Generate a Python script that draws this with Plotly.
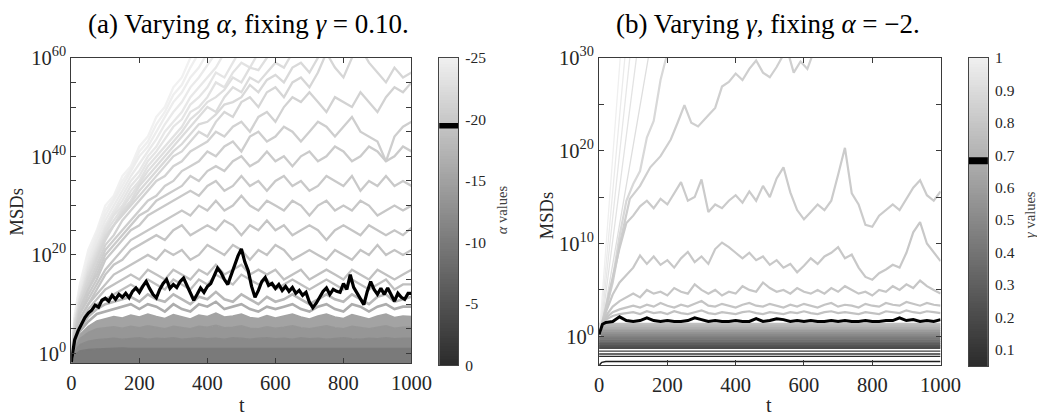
import plotly.graph_objects as go

# Positions in pixels and mapped to page
# pixels with the small scale and offset that the photographing step applies.
W, H = 1060, 419
SX, BX = 0.975, 5.8
SY, BY = 0.955, 10.2


def cx(p):
    return (p - BX) / SX


def cy(p):
    return (p - BY) / SY


def px(p):
    return cx(p) / W


def py(p):
    return 1 - cy(p) / H


# ------------------------------------------------------------------
# DATA  (all values are log10(MSD))
# ------------------------------------------------------------------
# ---- panel (a): varying alpha, gamma = 0.10 ----
T_A = [0, 10] + list(range(25, 1001, 25))
T_A_BLACK = list(range(0, 1001, 10))

A_BLACK = [-1.8, 2.8, 4.6, 6.0, 7.3, 8.2, 8.8, 9.8, 9.4, 10.8,
           11.2, 10.6, 11.8, 11.0, 12.0, 11.4, 12.2, 11.3, 12.6, 13.3,
           12.4, 13.6, 14.6, 13.2, 12.0, 11.3, 13.0, 14.2, 15.0, 13.2,
           14.0, 13.4, 14.6, 15.3, 13.8, 12.2, 10.8, 12.0, 13.3, 12.4,
           13.6, 14.2, 15.8, 17.3, 16.4, 15.0, 14.0, 16.0, 18.0, 19.8,
           21.2, 18.6, 16.8, 13.6, 11.4, 12.8, 14.6, 15.4, 13.8, 14.2,
           13.2, 14.0, 12.8, 13.6, 12.6, 13.4, 12.2, 12.8, 11.8, 12.4,
           10.4, 9.3, 10.2, 11.4, 12.6, 13.3, 12.0, 13.0, 12.6, 12.4,
           14.2, 13.0, 16.0, 13.4, 12.2, 10.8, 9.9, 12.6, 14.6, 13.0,
           12.0, 13.2, 12.0, 13.3, 12.0, 10.6, 12.2, 11.4, 11.0, 12.2,
           12.2]

# lines that leave the top of the plot (most negative alpha)
A_FAN_1 = [-2, 8, 14, 21, 25, 30, 32, 36, 38, 42, 44, 48, 50, 54, 56, 60, 64]
A_FAN_1B = [-2, 7.5, 13.5, 20, 24.5, 29, 31.5, 35, 37.5, 41, 43, 46.5, 49, 52.5, 54.5, 58,
            61, 64]
A_FAN_2 = [-2, 7, 13, 19, 24, 28, 31, 34, 37, 40, 42, 45, 48, 51, 53, 56, 58, 61, 64]
A_FAN_2B = [-2, 7, 12.5, 18.5, 23, 27, 30, 33, 36, 38.5, 41, 43.5, 46.5, 49, 51, 54, 56,
            58.5, 61, 64]
A_FAN_3 = [-2, 7, 12, 18, 22, 26, 29, 32, 35, 37, 40, 42, 45, 47, 49, 52, 54, 56, 58, 61, 64]
A_FAN_3B = [-2, 6.5, 11.5, 17.5, 21.5, 25.5, 28.5, 31, 34, 36, 39, 41, 43.5, 46, 47.5, 50.5,
            52, 54, 57, 56, 59, 62]
A_FAN_4 = [-2, 6, 11, 17, 21, 25, 28, 30, 33, 35, 38, 40, 42, 44, 46, 49, 50, 52, 55, 54,
           57, 59, 58, 61, 64]
A_FAN_4B = [-2, 6, 11, 16.5, 20.5, 24.5, 27, 29.5, 32, 34.5, 37, 39, 41, 43, 45, 47.5, 49,
            51, 52, 53.5, 56, 55, 58, 57.5, 60, 62]
A_FAN_5 = [-2, 6, 11, 16, 20, 24, 26, 29, 31, 34, 36, 38, 40, 42, 44, 46, 48, 50, 49, 52,
           54, 53, 56, 55, 57, 59, 58, 61, 64]
A_FAN_5B = [-2, 5.5, 10.5, 15.5, 19.5, 23.5, 26, 28.5, 30.5, 33, 35, 37, 39, 41, 42.5, 44.5,
            46.5, 47, 48.5, 50.5, 51, 52, 54.5, 53, 55.5, 56.5, 55, 58, 59, 57, 60, 63]
A_FAN_6 = [-2, 5, 10, 15, 19, 23, 26, 28, 30, 32, 34, 36, 38, 40, 41, 43, 45, 44, 47, 49,
           48, 51, 52, 50, 53, 54, 52, 55, 56, 54, 57, 61, 58, 56, 60, 62, 59, 57, 55, 58,
           56, 57]
# plateauing lines above the highlighted one
A_UP_52 = [-2, 5, 10, 14, 18, 22, 24, 27, 29, 31, 33, 35, 36, 38, 39, 41, 42, 43, 45, 44,
           46, 47, 45, 48, 49, 47, 50, 52, 51, 53, 51, 49, 52, 51, 50, 53, 51, 49, 52, 54,
           53, 55]
A_UP_46 = [-2, 4, 9, 13, 17, 21, 23, 25, 27, 29, 31, 32, 34, 35, 37, 38, 39, 41, 40, 42,
           43, 41, 44, 45, 43, 44, 46, 45, 43, 45, 47, 46, 44, 46, 48, 45, 44, 43, 39, 44,
           46, 47]
A_UP_41 = [-2, 4, 9, 13, 16, 20, 22, 24, 26, 28, 29, 31, 32, 33, 34, 36, 35, 37, 38, 37,
           39, 40, 38, 39, 41, 39, 40, 38, 40, 41, 39, 40, 42, 41, 39, 40, 42, 41, 39, 40,
           42, 41]
A_UP_35 = [-2, 4, 8, 12, 15, 19, 21, 23, 25, 26, 28, 29, 30, 31, 32, 33, 32, 34, 35, 33,
           34, 36, 34, 35, 33, 35, 36, 34, 35, 33, 34, 36, 35, 34, 36, 33, 35, 34, 36, 34,
           35, 34]
A_UP_30 = [-2, 4, 8, 11, 14, 17, 19, 21, 23, 24, 25, 26, 27, 28, 29, 28, 30, 29, 31, 29,
           30, 32, 30, 29, 31, 30, 29, 31, 30, 28, 30, 31, 29, 30, 29, 31, 30, 28, 29, 30,
           29, 30]
A_UP_25 = [-2, 3, 7, 10, 13, 16, 18, 19, 21, 22, 23, 24, 23, 25, 26, 24, 25, 26, 25, 27,
           26, 24, 26, 25, 27, 25, 26, 24, 25, 26, 25, 23, 25, 26, 25, 24, 26, 25, 24, 25,
           24, 25.5]
A_UP_21 = [-2, 3, 7, 10, 12, 14, 16, 17, 18, 19, 20, 19, 21, 20, 21, 19, 20, 22, 21, 20,
           22, 21, 19, 21, 20, 22, 21, 19, 20, 21, 20, 19, 21, 20, 19, 21, 20, 22, 20, 21,
           20, 21]
A_UP_17 = [-2, 3, 6, 9, 11, 13, 14, 15, 16, 15, 17, 16, 15, 17, 16, 15, 17, 16, 18, 16,
           17, 18, 16, 17, 16, 17, 15, 16, 17, 15, 16, 17, 16, 15, 17, 16, 15, 17, 16, 15,
           16, 17]
A_UP_14 = [-2, 2.5, 5.5, 8, 10, 11, 12, 13, 14, 13, 15, 14, 13, 15, 14, 13, 15, 14, 16, 15,
           14, 16, 15, 14, 15, 13, 14, 15, 14, 13, 14, 15, 14, 13, 15, 14, 13, 14, 15, 13,
           14, 14]
# lines just below the highlighted one
A_MID_11 = [-2, 2.5, 5, 7.5, 9, 10, 10.5, 11, 11.5, 10.5, 12, 11, 10.5, 12, 11, 10, 11.5, 11,
            12.5, 11, 10.5, 12, 11, 10, 11.5, 10.5, 11, 12, 11, 10, 11, 12, 11, 10.5, 12, 11,
            10, 11.5, 12, 10.5, 11, 11.5]
A_MID_9 = [-2, 2, 4.5, 6.5, 8, 8.5, 9, 9.5, 10, 9, 10, 9.5, 8.5, 10, 9, 8.5, 10, 9.5, 10.5,
           9, 9.5, 10, 9, 8.5, 9.5, 9, 9.5, 10, 9, 8.5, 9.5, 10, 9, 8.5, 10, 9.5, 8.5, 9.5,
           10, 9, 9.5, 9.5]
# upper edges of the dense (nearly solid) band of lines, top to bottom
A_DENSE_7 = [-2, 1.5, 3.8, 5.5, 6.6, 7, 7.5, 7.2, 7.8, 7.4, 8, 7.5, 7.1, 7.9, 7.4, 7, 7.8,
             7.5, 8.2, 7.4, 7.6, 8, 7.3, 7.1, 7.7, 7.2, 7.6, 8, 7.4, 7, 7.6, 8, 7.4, 7.1,
             7.9, 7.5, 7, 7.6, 8, 7.3, 7.6, 7.5]
A_DENSE_5 = [-2, 1, 3, 4.3, 5, 5.2, 5.4, 5.1, 5.5, 5.2, 5.6, 5.3, 5, 5.5, 5.2, 5, 5.5, 5.3,
             5.7, 5.2, 5.3, 5.6, 5.1, 5, 5.4, 5.1, 5.3, 5.6, 5.2, 5, 5.3, 5.6, 5.2, 5, 5.5,
             5.3, 5, 5.3, 5.6, 5.1, 5.3, 5.3]
A_DENSE_3 = [-2, 0.5, 1.8, 2.5, 2.8, 3, 3.1, 2.9, 3.1, 3.2, 2.9, 3.1, 3, 3.2, 2.9, 3, 3.2, 3,
             3.1, 2.9, 3.2, 3.1, 2.9, 3.1, 3.2, 3, 3.1, 2.9, 3.2, 3, 3.1, 2.9, 3, 3.2, 3,
             2.9, 3.1, 3, 3.2, 3, 3.1, 3.1]
A_DENSE_1 = [-2, -0.3, 0.5, 0.8, 0.9, 1, 1, 1.1, 1, 1, 1.1, 1, 1, 1.1, 1, 1, 1.1, 1, 1, 1.1,
             1, 1, 1.1, 1, 1, 1.1, 1, 1, 1.1, 1, 1, 1.1, 1, 1, 1.1, 1, 1, 1.1, 1, 1, 1.1, 1]
A_FLOOR = -3

A_CB_MIN, A_CB_MAX = -25, 0
A_CB_TICKS = [-25, -20, -15, -10, -5, 0]
A_HIGHLIGHT = (-19.7, -19.25)

# ---- panel (b): varying gamma, alpha = -2 ----
T_B = [0, 10] + list(range(20, 1001, 20))

B_BLACK = [0.2, 1.3, 1.5, 1.6, 2.1, 1.7, 1.6, 1.7, 2.0, 1.7,
           1.6, 1.7, 1.6, 1.6, 1.7, 2.0, 1.8, 1.6, 1.7, 1.6,
           1.6, 1.7, 1.6, 1.6, 1.9, 1.6, 1.7, 1.9, 1.8, 1.6,
           1.7, 1.6, 1.7, 1.6, 1.6, 1.7, 1.6, 1.7, 1.6, 1.6,
           1.7, 1.6, 1.6, 1.7, 1.7, 2.0, 1.7, 1.8, 1.6, 1.7,
           1.6, 1.8]

# straight fan lines (largest gamma): start time, start value, time at 10^31
B_FAN_T0 = [4, 6, 8, 10, 12]
B_FAN_V0 = [1.8, 1.8, 1.8, 1.8, 1.8]
B_FAN_T_TOP = [64, 78, 93, 113, 149]
B_FAN_V_TOP = 31

B_J1_T = [0, 10, 20, 40, 60, 80, 100, 120, 140, 160, 180, 200]
B_J1 = [0, 1.6, 2.8, 6.2, 10.8, 14.6, 16.4, 17.8, 21.4, 23.2, 27.6, 30.5]

B_J2_T = [0, 10, 20, 40, 60, 90, 120, 150, 180, 210, 230, 250, 270, 290, 320, 340, 360,
          380, 400, 420, 440, 460, 480, 500, 520, 536, 550, 570, 590, 610, 625, 650]
B_J2 = [0, 1.5, 2.7, 5.8, 9.8, 14.8, 16.2, 18.2, 19.4, 21.2, 23.0, 24.9, 23.0, 22.6, 23.8,
        24.6, 26.9, 27.4, 28.3, 27.6, 28.8, 29.7, 28.4, 27.9, 29.0, 30.1, 31.0, 28.4, 29.6,
        28.8, 30.3, 32.0]

B_J3 = [0, 1.6, 3.0, 6.5, 9.5, 12.2, 13.0, 14.0, 14.6, 13.8,
        14.8, 14.2, 15.4, 16.6, 14.6, 15.0, 16.9, 13.4, 14.2, 13.8,
        14.6, 15.2, 14.4, 15.6, 14.6, 16.2, 15.0, 17.0, 18.2, 15.5,
        13.6, 12.6, 13.4, 14.2, 13.6, 14.6, 17.4, 20.3, 15.4, 14.2,
        12.0, 11.8, 13.0, 13.6, 14.2, 13.6, 14.8, 16.0, 16.8, 15.2,
        14.6, 15.6]
B_J4 = [0, 1.5, 2.6, 4.5, 5.8, 6.6, 7.4, 8.7, 7.8, 8.6,
        7.7, 8.2, 7.4, 8.4, 9.1, 8.0, 8.6, 7.8, 9.4, 10.1,
        9.6, 9.0, 8.4, 9.0, 8.2, 8.6, 7.7, 8.2, 7.4, 7.8,
        6.9, 7.6, 8.4, 7.8, 8.6, 9.0, 9.6, 8.4, 8.8, 7.4,
        6.4, 6.1, 6.8, 7.2, 7.7, 7.4, 9.0, 11.2, 12.3, 10.0,
        9.0, 8.1]
B_J5 = [0, 1.4, 2.2, 3.2, 3.8, 4.2, 4.6, 4.2, 5.0, 4.6,
        4.8, 4.4, 5.2, 4.8, 4.6, 5.6, 5.0, 4.6, 5.0, 4.4,
        4.8, 4.6, 5.4, 5.0, 4.8, 5.8, 5.2, 4.8, 5.0, 4.6,
        5.2, 4.8, 4.6, 5.0, 4.6, 5.2, 4.8, 5.4, 5.0, 4.6,
        4.8, 4.4, 5.0, 4.8, 5.4, 5.0, 5.6, 5.2, 6.0, 5.4,
        5.0, 4.6]
B_J6 = [0, 1.4, 2.0, 2.6, 2.9, 3.1, 3.3, 3.1, 3.4, 3.2,
        3.6, 3.3, 3.1, 3.4, 3.2, 3.5, 3.8, 3.3, 3.2, 3.5,
        3.3, 3.1, 3.4, 3.6, 3.3, 3.2, 3.5, 3.3, 3.1, 3.4,
        3.2, 3.5, 3.3, 3.1, 3.4, 3.6, 3.2, 3.4, 3.3, 3.1,
        3.5, 3.3, 3.2, 3.6, 3.4, 3.3, 3.7, 3.5, 3.3, 3.6,
        3.4, 3.3]
B_J7 = [0, 1.3, 1.8, 2.2, 2.4, 2.5, 2.6, 2.4, 2.7, 2.5,
        2.6, 2.4, 2.7, 2.5, 2.4, 2.6, 2.8, 2.5, 2.4, 2.6,
        2.5, 2.4, 2.6, 2.7, 2.5, 2.4, 2.6, 2.5, 2.4, 2.6,
        2.5, 2.7, 2.5, 2.4, 2.6, 2.7, 2.5, 2.6, 2.5, 2.4,
        2.6, 2.5, 2.4, 2.7, 2.6, 2.5, 2.8, 2.6, 2.5, 2.7,
        2.6, 2.5]

# nearly flat lines of the smaller gammas (top to bottom)
B_FLAT_LEVELS = [1.35, 1.15, 0.95, 0.75, 0.55, 0.35, 0.15, -0.05, -0.25, -0.45,
                 -0.65, -0.85, -1.05, -1.25]
B_DARK_LEVELS = [-1.6, -1.9, -2.15]
B_BOTTOM_T = [0, 3, 8, 20, 1000]
B_BOTTOM = [-3.3, -3.0, -2.8, -2.7, -2.7]

B_CB_MIN, B_CB_MAX = 0.05, 1.0
B_CB_TICKS = [0.1, 0.2, 0.3, 0.4, 0.5, 0.6, 0.7, 0.8, 0.9, 1.0]
B_CB_LABELS = ['0.1', '0.2', '0.3', '0.4', '0.5', '0.6', '0.7', '0.8', '0.9', '1']
B_HIGHLIGHT = (0.672, 0.693)

# ------------------------------------------------------------------
# STYLE
# ------------------------------------------------------------------
FONT = "Liberation Serif"
A_UPPER = [A_FAN_1, A_FAN_1B, A_FAN_2, A_FAN_2B, A_FAN_3, A_FAN_3B, A_FAN_4, A_FAN_4B,
           A_FAN_5, A_FAN_5B, A_FAN_6, A_UP_52, A_UP_46, A_UP_41, A_UP_35, A_UP_30,
           A_UP_25, A_UP_21, A_UP_17, A_UP_14]
A_UPPER_COLORS = ['#f1f1f1', '#efefef', '#ededed', '#eaeaea', '#e8e8e8', '#e5e5e5',
                  '#e2e2e2', '#dfdfdf', '#dcdcdc', '#d9d9d9', '#d6d6d6',
                  '#d2d2d2', '#cecece', '#cbcbcb', '#c9c9c9', '#c7c7c7', '#c5c5c5',
                  '#c3c3c3', '#c1c1c1', '#bfbfbf']
A_MID = [A_MID_11, A_MID_9]
A_MID_COLORS = ['#b8b8b8', '#adadad']
A_DENSE = [A_DENSE_1, A_DENSE_3, A_DENSE_5, A_DENSE_7]
A_DENSE_COLORS = ['#7a7a7a', '#8a8a8a', '#969696', '#a3a3a3']

B_FAN_COLORS = ['#efefef', '#ebebeb', '#e7e7e7', '#e3e3e3', '#dedede']
B_J = [(B_J1_T, B_J1), (B_J2_T, B_J2), (T_B, B_J3), (T_B, B_J4), (T_B, B_J5),
       (T_B, B_J6), (T_B, B_J7)]
B_J_COLORS = ['#d8d8d8', '#cfcfcf', '#cbcbcb', '#c8c8c8', '#c6c6c6', '#c4c4c4', '#c2c2c2']


def gray_hex(frac):
    v = int(round(0xc0 - frac * (0xc0 - 0x4c)))
    return '#%02x%02x%02x' % (v, v, v)


fig = go.Figure()


def p10(vals):
    return [10.0 ** v for v in vals]


# ---------------- panel (a) ----------------
fig.add_trace(go.Scatter(x=T_A, y=p10([A_FLOOR] * len(T_A)), mode='lines',
                         line=dict(width=0, color='rgba(0,0,0,0)'),
                         xaxis='x', yaxis='y', hoverinfo='skip', showlegend=False))
for vals, col in zip(A_DENSE, A_DENSE_COLORS):
    fig.add_trace(go.Scatter(x=T_A, y=p10(vals), mode='lines', fill='tonexty',
                             fillcolor=col, line=dict(width=1.5, color=col),
                             xaxis='x', yaxis='y', hoverinfo='skip', showlegend=False))
for vals, col in zip(A_UPPER, A_UPPER_COLORS):
    fig.add_trace(go.Scatter(x=T_A[:len(vals)], y=p10(vals), mode='lines',
                             line=dict(width=2.3, color=col),
                             xaxis='x', yaxis='y', hoverinfo='skip', showlegend=False))
for vals, col in zip(A_MID, A_MID_COLORS):
    fig.add_trace(go.Scatter(x=T_A, y=p10(vals), mode='lines',
                             line=dict(width=2.6, color=col),
                             xaxis='x', yaxis='y', hoverinfo='skip', showlegend=False))
fig.add_trace(go.Scatter(x=T_A_BLACK, y=p10(A_BLACK), mode='lines',
                         line=dict(width=3.2, color='black'),
                         xaxis='x', yaxis='y', hoverinfo='skip', showlegend=False))

# ---------------- panel (b) ----------------
for i, lev in enumerate(B_FLAT_LEVELS):
    col = gray_hex(i / (len(B_FLAT_LEVELS) - 1))
    fig.add_trace(go.Scatter(x=[0, 1000], y=p10([lev, lev]), mode='lines',
                             line=dict(width=2.3, color=col),
                             xaxis='x2', yaxis='y2', hoverinfo='skip', showlegend=False))
for lev, col in zip(B_DARK_LEVELS, ['#404040', '#363636', '#2c2c2c']):
    fig.add_trace(go.Scatter(x=[0, 1000], y=p10([lev, lev]), mode='lines',
                             line=dict(width=1.3, color=col),
                             xaxis='x2', yaxis='y2', hoverinfo='skip', showlegend=False))
fig.add_trace(go.Scatter(x=B_BOTTOM_T, y=p10(B_BOTTOM), mode='lines',
                         line=dict(width=1.5, color='#1e1e1e'),
                         xaxis='x2', yaxis='y2', hoverinfo='skip', showlegend=False))
for t0, v0, tt, col in zip(B_FAN_T0, B_FAN_V0, B_FAN_T_TOP, B_FAN_COLORS):
    fig.add_trace(go.Scatter(x=[0, t0, tt], y=p10([0, v0, B_FAN_V_TOP]), mode='lines',
                             line=dict(width=1.3, color=col),
                             xaxis='x2', yaxis='y2', hoverinfo='skip', showlegend=False))
for (tx, vals), col in zip(B_J, B_J_COLORS):
    fig.add_trace(go.Scatter(x=tx, y=p10(vals), mode='lines',
                             line=dict(width=2.2, color=col),
                             xaxis='x2', yaxis='y2', hoverinfo='skip', showlegend=False))
fig.add_trace(go.Scatter(x=T_B, y=p10(B_BLACK), mode='lines',
                         line=dict(width=3, color='black'),
                         xaxis='x2', yaxis='y2', hoverinfo='skip', showlegend=False))

# ---------------- colour bars ----------------
A_CB_Y = [A_CB_MIN + i * (A_CB_MAX - A_CB_MIN) / 120 for i in range(121)]
B_CB_Y = [B_CB_MIN + i * (B_CB_MAX - B_CB_MIN) / 120 for i in range(121)]
fig.add_trace(go.Heatmap(x=[0], y=A_CB_Y, z=[[v] for v in A_CB_Y], zmin=A_CB_MIN,
                         zmax=A_CB_MAX, colorscale=[[0, '#f0f0f0'], [1, '#2b2b2b']],
                         showscale=False, xaxis='x3', yaxis='y3', hoverinfo='skip'))
fig.add_trace(go.Heatmap(x=[0], y=B_CB_Y, z=[[v] for v in B_CB_Y], zmin=B_CB_MIN,
                         zmax=B_CB_MAX, colorscale=[[0, '#2b2b2b'], [1, '#f0f0f0']],
                         showscale=False, xaxis='x4', yaxis='y4', hoverinfo='skip'))

# ------------------------------------------------------------------
# LAYOUT
# ------------------------------------------------------------------
LC = '#3a3a3a'
tickfont = dict(family=FONT, size=20.5, color='#262626')
ax_common = dict(showline=True, linecolor=LC, linewidth=1, mirror='ticks', ticks='inside',
                 ticklen=5, tickcolor=LC, showgrid=False, zeroline=False, tickfont=tickfont)


def log_ticks(top, step_lab):
    vals = [10.0 ** k for k in range(0, top + 1, 5)]
    text = ['10<sup>%d</sup>' % k if k % step_lab == 0 else '' for k in range(0, top + 1, 5)]
    return vals, text


ya_vals, ya_text = log_ticks(60, 20)
yb_vals, yb_text = log_ticks(30, 10)

cb_ax = dict(showline=True, linecolor='#444444', linewidth=1, mirror=True, showgrid=False,
             zeroline=False)
cb_font = dict(family=FONT, size=15.5, color='#262626')

fig.update_layout(
    width=W, height=H, autosize=False,
    margin=dict(l=0, r=0, t=0, b=0),
    paper_bgcolor='white', plot_bgcolor='white',
    showlegend=False,
    xaxis=dict(domain=[px(72), px(411.7)], range=[0, 1000],
               tickvals=[0, 200, 400, 600, 800, 1000], ticklabelstandoff=1,
               anchor='y', **ax_common),
    yaxis=dict(domain=[py(362.3), py(54.3)], type='log', range=[-2.0, 60],
               tickvals=ya_vals, ticktext=ya_text, anchor='x', **ax_common),
    xaxis2=dict(domain=[px(599), px(940)], range=[0, 1000],
                tickvals=[0, 200, 400, 600, 800, 1000], ticklabelstandoff=1,
                anchor='y2', **ax_common),
    yaxis2=dict(domain=[py(364.3), py(54.3)], type='log', range=[-3.12, 30],
                tickvals=yb_vals, ticktext=yb_text, anchor='x2', **ax_common),
    xaxis3=dict(domain=[px(439.3), px(458.3)], range=[-0.5, 0.5], showticklabels=False,
                ticks='', anchor='y3', **cb_ax),
    yaxis3=dict(domain=[py(364.3), py(54.3)], range=[A_CB_MAX, A_CB_MIN], side='right',
                tickvals=A_CB_TICKS, ticktext=[str(v) for v in A_CB_TICKS],
                ticks='outside', ticklen=3, tickcolor='rgba(0,0,0,0)',
                tickfont=cb_font, anchor='x3', **cb_ax),
    xaxis4=dict(domain=[px(968.3), px(987.3)], range=[-0.5, 0.5], showticklabels=False,
                ticks='', anchor='y4', **cb_ax),
    yaxis4=dict(domain=[py(365), py(54.3)], range=[B_CB_MIN, B_CB_MAX], side='right',
                tickvals=B_CB_TICKS, ticktext=B_CB_LABELS,
                ticks='outside', ticklen=3, tickcolor='rgba(0,0,0,0)',
                tickfont=cb_font, anchor='x4', **cb_ax),
)

fig.add_shape(type='rect', xref='x3', yref='y3', x0=-0.5, x1=0.5,
              y0=A_HIGHLIGHT[0], y1=A_HIGHLIGHT[1], fillcolor='black', line=dict(width=0))
fig.add_shape(type='rect', xref='x4', yref='y4', x0=-0.5, x1=0.5,
              y0=B_HIGHLIGHT[0], y1=B_HIGHLIGHT[1], fillcolor='black', line=dict(width=0))


def note(text, x, y, size, angle=0, color='#111111', page_y=False):
    yy = 1 - y / H if page_y else py(y)
    fig.add_annotation(text=text, x=px(x), y=yy, xref='paper', yref='paper',
                       showarrow=False, textangle=angle, xanchor='center', yanchor='middle',
                       font=dict(family=FONT, size=size, color=color))


# titles sit as high as the page allows
note('(a) Varying <i>α</i>, fixing <i>γ</i> = 0.10.', 249, 11, 27, color='black', page_y=True)
note('(b) Varying <i>γ</i>, fixing <i>α</i> = −2.', 768, 11, 27, color='black', page_y=True)
note('MSDs', 18, 210, 18.5, -90, '#262626')
note('MSDs', 547, 213, 18.5, -90, '#262626')
note('t', 242, 404, 20, 0, '#262626')
note('t', 769, 404, 20, 0, '#262626')
note('<i>α</i> values', 502, 207, 14.5, -90, '#404040')
note('<i>γ</i> values', 1030, 212, 14.5, -90, '#404040')

fig.write_html(
    "out.html",
    config={'displayModeBar': False},
    post_script=("document.documentElement.style.margin='0';"
                 "document.body.style.margin='0';"
                 "document.documentElement.style.overflow='hidden';"
                 "document.body.style.overflow='hidden';"),
)
